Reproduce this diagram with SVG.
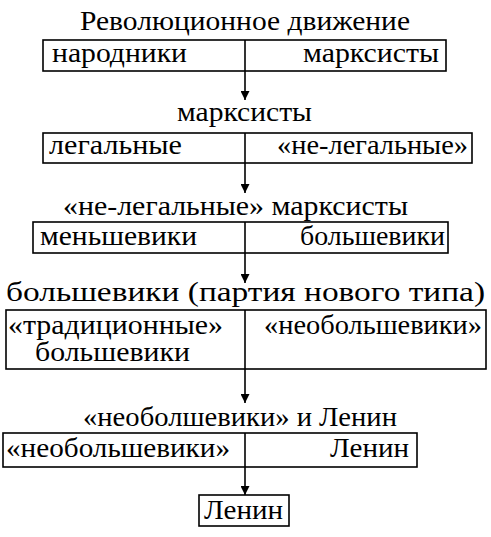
<svg xmlns="http://www.w3.org/2000/svg" width="491" height="537" viewBox="0 0 491 537">
<defs>
<style>
text{font-family:"Liberation Serif","Times New Roman",serif;font-size:27px;fill:#000}
.box{fill:#fff;stroke:#000;stroke-width:1.6}
.div{stroke:#000;stroke-width:1.6;fill:none}
.conn{stroke:#000;stroke-width:1.6;fill:none;marker-end:url(#ah)}
</style>
<marker id="ah" viewBox="0 0 10 10" refX="10" refY="5" markerWidth="10" markerHeight="9" markerUnits="userSpaceOnUse" orient="auto">
<path d="M0,0 L10,5 L0,10 z" fill="#000"/>
</marker>
</defs>
<rect width="491" height="537" fill="#fff"/>
<g id="connectors">
<line class="conn" x1="245" y1="71" x2="245" y2="100"/>
<line class="conn" x1="245" y1="163" x2="245" y2="193"/>
<line class="conn" x1="245" y1="253" x2="245" y2="283"/>
<line class="conn" x1="245" y1="369" x2="245" y2="403"/>
<line class="conn" x1="245" y1="467" x2="245" y2="495"/>
</g>
<g id="n1">
<text x="80" y="30" textLength="330" lengthAdjust="spacingAndGlyphs">Революционное движение</text>
<rect class="box" x="43" y="40" width="403" height="31"/>
<line class="div" x1="245" y1="40" x2="245" y2="71"/>
<text x="52" y="62" textLength="135" lengthAdjust="spacingAndGlyphs">народники</text>
<text x="303" y="62" textLength="136" lengthAdjust="spacingAndGlyphs">марксисты</text>
</g>
<g id="n2">
<text x="177" y="121" textLength="135" lengthAdjust="spacingAndGlyphs">марксисты</text>
<rect class="box" x="43" y="133" width="429" height="30"/>
<line class="div" x1="245" y1="133" x2="245" y2="163"/>
<text x="49" y="154" textLength="133" lengthAdjust="spacingAndGlyphs">легальные</text>
<text x="277" y="154" textLength="191" lengthAdjust="spacingAndGlyphs">«не-легальные»</text>
</g>
<g id="n3">
<text x="63" y="215" textLength="345" lengthAdjust="spacingAndGlyphs">«не-легальные» марксисты</text>
<rect class="box" x="33" y="222" width="415" height="31"/>
<line class="div" x1="245" y1="222" x2="245" y2="253"/>
<text x="40" y="245" textLength="157" lengthAdjust="spacingAndGlyphs">меньшевики</text>
<text x="300" y="245" textLength="145" lengthAdjust="spacingAndGlyphs">большевики</text>
</g>
<g id="n4">
<text x="6" y="301" textLength="479" lengthAdjust="spacingAndGlyphs">большевики (партия нового типа)</text>
<rect class="box" x="6" y="310" width="480" height="59"/>
<line class="div" x1="245" y1="310" x2="245" y2="369"/>
<text x="8" y="334" textLength="215" lengthAdjust="spacingAndGlyphs">«традиционные»</text>
<text x="35" y="361" textLength="155" lengthAdjust="spacingAndGlyphs">большевики</text>
<text x="264" y="334" textLength="218" lengthAdjust="spacingAndGlyphs">«необольшевики»</text>
</g>
<g id="n5">
<text x="83" y="426" textLength="314" lengthAdjust="spacingAndGlyphs">«необолшевики» и Ленин</text>
<rect class="box" x="3" y="433" width="414" height="34"/>
<line class="div" x1="245" y1="433" x2="245" y2="467"/>
<text x="6" y="457" textLength="224" lengthAdjust="spacingAndGlyphs">«необольшевики»</text>
<text x="330" y="457" textLength="79" lengthAdjust="spacingAndGlyphs">Ленин</text>
</g>
<g id="n6">
<rect class="box" x="199" y="495" width="90" height="31"/>
<text x="204" y="519" textLength="79" lengthAdjust="spacingAndGlyphs">Ленин</text>
</g>
</svg>
